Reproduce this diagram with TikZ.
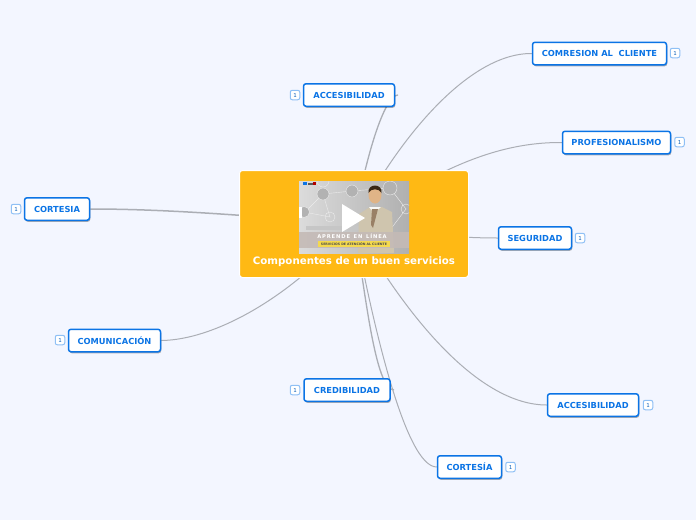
\documentclass[tikz,border=0pt]{standalone}
\usepackage{fontspec}
\setmainfont{DejaVu Sans}
\usetikzlibrary{shadows,backgrounds}
\definecolor{pagebg}{HTML}{F3F6FF}
\definecolor{boxblue}{HTML}{0B74E5}
\definecolor{badgeblue}{HTML}{8FC0F5}
\definecolor{hubfill}{HTML}{FFB914}
\definecolor{linkgray}{HTML}{ABAEB5}
\definecolor{suit}{HTML}{CFC5AE}
\definecolor{bandgray}{HTML}{C4BAB6}
\definecolor{stripyellow}{HTML}{F4D94E}
\begin{document}
\begin{tikzpicture}[
  x=1pt,y=-1pt,
  topic/.style={
    draw=boxblue,fill=white,line width=1.5pt,rounded corners=2.5pt,
    minimum height=22.5pt,inner xsep=0pt,inner ysep=0pt,
    text=boxblue,font=\bfseries\fontsize{8.3}{10}\selectfont,
    drop shadow={shadow xshift=0.8pt,shadow yshift=-1.5pt,opacity=.3,fill=black},
  },
  badge/.style={
    draw=badgeblue,fill=white,line width=1pt,rounded corners=2pt,
    minimum width=9.5pt,minimum height=9.5pt,inner sep=0pt,
    text=boxblue!80!black,font=\fontsize{5.5}{6}\selectfont,
  },
  link/.style={draw=linkgray,line width=1pt},
  photo/.style={fill=gray!60,draw=white!85!gray,line width=.4pt},
  ring/.style={draw=white!85!gray,line width=.4pt},
  ]
  \begin{scope}[on background layer]
    \fill[pagebg] (0,0) rectangle (696,520);
  \end{scope}
  \useasboundingbox (0,0) rectangle (696,520);
  % centre
  \node[draw=white,fill=hubfill,line width=1pt,rounded corners=3pt,minimum width=229pt,minimum height=107pt] (hub) at (354,224) {};
  \node[text=white,font=\bfseries\fontsize{10.25}{13}\selectfont,inner sep=0pt] (title) at (354,261.5) {Componentes de un buen servicios};
  % thumbnail
  \begin{scope}
    \clip (299,181) rectangle (409,253);
    \shade[left color=gray!28,right color=gray!62] (299,181) rectangle (409,253);
    \draw[ring] (305,212) -- (323,194) -- (352,191) -- (390,188) -- (406,209) -- (390,230);
    \draw[ring] (323,194) -- (330,217) -- (304,212);
    \draw[ring] (330,217) circle (5);
    \draw[ring] (406,209) circle (5);
    \draw[ring] (323,181) circle (6);
    \draw[photo] (323,194) circle (6);
    \draw[photo] (352,191) circle (6);
    \draw[photo] (390,188) circle (7);
    \draw[photo] (304,212) circle (5.5);
    \fill[white] (299,207) rectangle (302,218);
    \fill[gray!45] (306,226) rectangle (362,230);
    \fill[suit] (358,253) -- (359,214) -- (370,207) -- (382,207) -- (392,212) -- (394,253) -- cycle;
    \fill[white!90!suit] (369,207) -- (374,213) -- (381,207) -- cycle;
    \fill[gray!60!brown] (372,209) -- (371,225) -- (373,228) -- (378,209) -- cycle;
    \fill[bandgray,opacity=.9] (299,232) rectangle (409,248);
    \fill[orange!40!white!88!black] (375,195) ellipse (6.5 and 8.5);
    \fill[black!70!brown] (368.5,193) .. controls (367,183) and (383,183) .. (381.5,193) .. controls (379,188) and (371,188) .. cycle;
    \fill[stripyellow] (318,241) rectangle (390,247);
    \fill[boxblue] (303,182) rectangle (307,185);
    \fill[red!70!black] (313,182) rectangle (316,185);
    \fill[gray!70!black] (307.5,182.5) rectangle (313,184.5);
  \end{scope}
  \node[text=white,font=\bfseries\fontsize{5.2}{6}\selectfont,inner sep=0pt] (aprende) at (352,236) {A\,P\,R\,E\,N\,D\,E\ \ E\,N\ \ L\,Í\,N\,E\,A};
  \node[text=black!70,font=\bfseries\fontsize{3.2}{4}\selectfont,inner sep=0pt] (servicios) at (354,244) {SERVICIOS DE ATENCIÓN AL CLIENTE};
  \fill[white] (342,204) -- (365,218) -- (342,232) -- cycle;
  % topics
  \node[topic,minimum width=134pt] (compresion) at (599.5,53.5) {COMRESION AL\ \ CLIENTE};
  \node[topic,minimum width=108pt] (profesional) at (616.5,142.5) {PROFESIONALISMO};
  \node[topic,minimum width=91pt] (accesoa) at (349,95) {ACCESIBILIDAD};
  \node[topic,minimum width=65pt] (cortesia) at (57,209) {CORTESIA};
  \node[topic,minimum width=73pt] (seguridad) at (535,238) {SEGURIDAD};
  \node[topic,minimum width=92pt] (comunica) at (114.5,340.5) {COMUNICACIÓN};
  \node[topic,minimum width=86pt] (credibilidad) at (347,390) {CREDIBILIDAD};
  \node[topic,minimum width=91pt] (accesob) at (593,405) {ACCESIBILIDAD};
  \node[topic,minimum width=64pt] (cortesib) at (469.5,467) {CORTESÍA};
  % badges
  \node[badge] (ba) at (675,53) {1};
  \node[badge] (bb) at (679.5,142) {1};
  \node[badge] (bc) at (295,95) {1};
  \node[badge] (bd) at (16,209) {1};
  \node[badge] (be) at (580,238) {1};
  \node[badge] (bf) at (60,340) {1};
  \node[badge] (bg) at (295,390) {1};
  \node[badge] (bh) at (648,405) {1};
  \node[badge] (bi) at (510.5,467) {1};
  % links
  \coordinate (accesoa end) at (398,95);
  \coordinate (credibilidad end) at (394,390);
  \begin{scope}[on background layer]
    \draw[link] (hub.center) .. controls (400,135) and (470,53) .. (compresion.west);
    \draw[link] (hub.center) .. controls (430,175) and (490,142) .. (profesional.west);
    \draw[link,line width=1.3pt] (hub.center) .. controls (365,160) and (384,95) .. (accesoa end);
    \draw[link,line width=1.5pt] (hub.center) .. controls (250,216) and (170,209) .. (cortesia.east);
    \draw[link] (hub.center) .. controls (420,236) and (470,238) .. (seguridad.west);
    \draw[link] (hub.center) .. controls (294,296) and (215,340) .. (comunica.east);
    \draw[link,line width=1.3pt] (hub.center) .. controls (365,290) and (375,390) .. (credibilidad end);
    \draw[link] (hub.center) .. controls (408,320) and (480,405) .. (accesob.west);
    \draw[link] (hub.center) .. controls (372,320) and (405,467) .. (cortesib.west);
  \end{scope}
\end{tikzpicture}
\end{document}
